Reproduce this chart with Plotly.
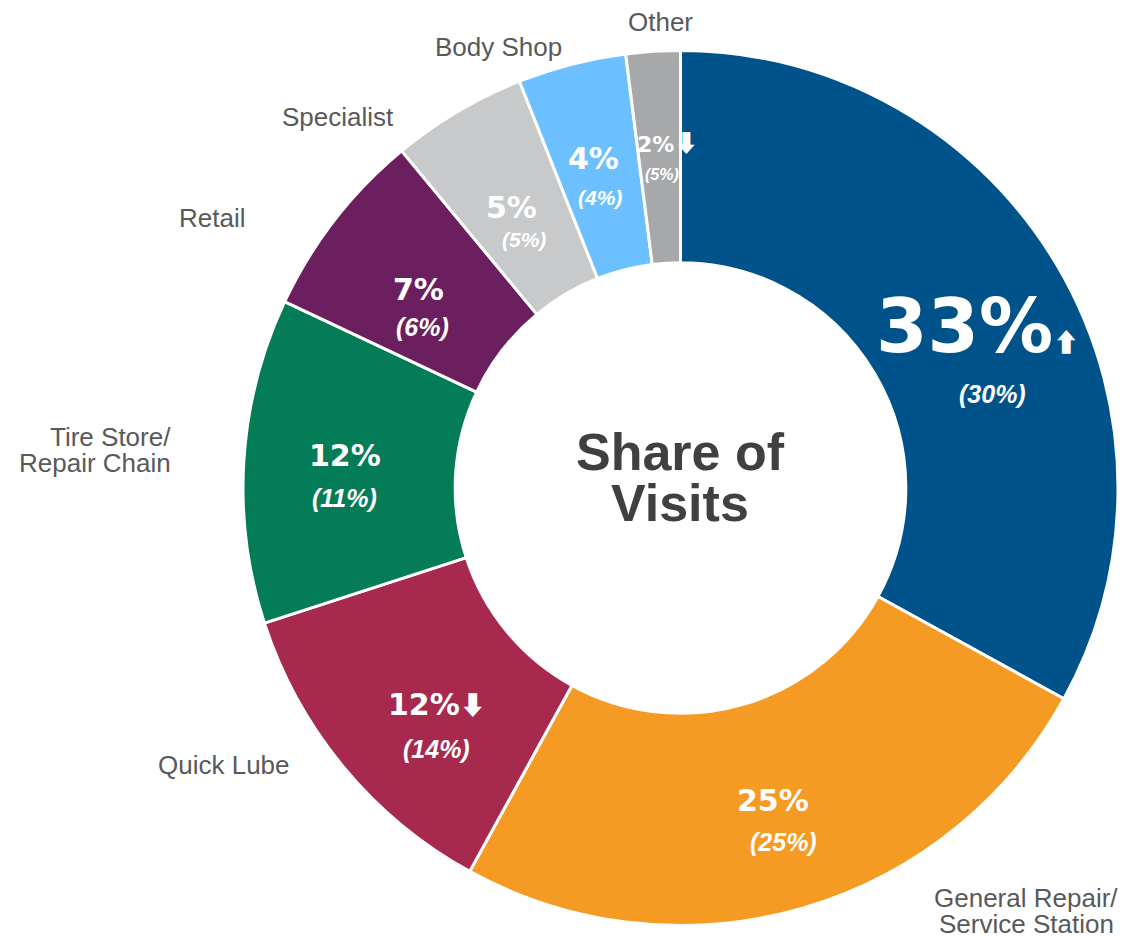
import math
import plotly.graph_objects as go

# ---------------- data ----------------
segment_names = ["", "General Repair/<br>Service Station", "Quick Lube", "Tire Store/<br>Repair Chain",
                 "Retail", "Specialist", "Body Shop", "Other"]
share_now = [33, 25, 12, 12, 7, 5, 4, 2]
share_prev = [30, 25, 14, 11, 6, 5, 4, 5]
trend = ["up", "", "down", "", "", "", "", "down"]
center_title = ["Share of", "Visits"]

# ---------------- styles ----------------
colors = ["#00538A", "#F59A23", "#A8294E", "#047C58", "#6B1F5E", "#C8C9CB", "#6CC0FF", "#A7A8AA"]
main_size = [74, 30, 30, 30, 30, 30, 30, 22]
sub_size = [25, 25, 25, 25, 25, 21, 21, 16]
arrow_size = [26, 26, 26, 26, 26, 26, 26, 24]
# fine offsets (px, +x right, +y down)
main_off = [(12, 7), (0, -6), (12, 4), (-5, -12), (0, 5), (0, 5), (-5, -9), (8, -16)]
sub_off = [(27, 8), (11, -4), (11, 10), (-5, -9), (4, 2), (12, -3), (2, -10), (2, -18)]

W, H = 1122, 937
CX, CY, R = 680.5, 488, 437.5
HOLE = 0.515

# label placement (pixel positions, layout only)
label_xy = {
    1: (1026, 898, "center"),
    2: (291, 765, "right"),
    3: (172, 437, "right"),
    4: (246, 218, "right"),
    5: (395, 117, "right"),
    6: (498, 47, "center"),
    7: (660, 22, "center"),
}
LABEL_LINE = 26


def px(x):
    return x / W


def py(y):
    return 1 - y / H


fig = go.Figure()
fig.add_trace(go.Pie(
    values=share_now,
    sort=False,
    direction="clockwise",
    rotation=0,
    hole=HOLE,
    marker=dict(colors=colors, line=dict(color="white", width=3)),
    textinfo="none",
    hoverinfo="skip",
    showlegend=False,
    domain=dict(x=[px(CX - R), px(CX + R)], y=[py(CY + R), py(CY - R)]),
))

annotations = []
total = sum(share_now)
cum = 0
r_mid = (R + R * HOLE) / 2
for i, v in enumerate(share_now):
    mid = (cum + v / 2) / total * 2 * math.pi
    cum += v
    x = CX + r_mid * math.sin(mid)
    y = CY - r_mid * math.cos(mid)
    arrow = ""
    sty = f"font-size:{arrow_size[i]}px;font-family:Noto Sans CJK JP"
    if trend[i] == "up":
        arrow = f"<span style='{sty}'>⬆</span>"
    elif trend[i] == "down":
        arrow = f"<span style='{sty}'>⬇</span>"
    annotations.append(dict(
        x=px(x), y=py(y), xref="paper", yref="paper", showarrow=False,
        text=f"<b>{v}%</b>{arrow}",
        font=dict(family="DejaVu Sans", size=main_size[i], color="white"),
        xanchor="center", yanchor="middle",
        xshift=main_off[i][0], yshift=-main_off[i][1],
    ))
    annotations.append(dict(
        x=px(x), y=py(y), xref="paper", yref="paper", showarrow=False,
        text=f"<b><i>({share_prev[i]}%)</i></b>",
        font=dict(family="Liberation Sans", size=sub_size[i], color="white"),
        xanchor="center", yanchor="middle",
        xshift=sub_off[i][0], yshift=-(main_size[i] * 0.6 + 22) - sub_off[i][1],
    ))

for i, (lx, ly, anc) in label_xy.items():
    for k, line in enumerate(segment_names[i].split("<br>")):
        annotations.append(dict(
            x=px(lx), y=py(ly + k * LABEL_LINE), xref="paper", yref="paper", showarrow=False,
            text=line, align=anc, borderpad=0,
            font=dict(family="Liberation Sans", size=26, color="#595959"),
            xanchor=anc, yanchor="middle",
        ))

for k, line in enumerate(center_title):
    annotations.append(dict(
        x=px(CX), y=py(452 + 51 * k), xref="paper", yref="paper", showarrow=False,
        text=f"<b>{line}</b>", borderpad=0,
        font=dict(family="Liberation Sans", size=52, color="#404040"),
        xanchor="center", yanchor="middle",
    ))

fig.update_layout(
    width=W, height=H,
    margin=dict(l=0, r=0, t=0, b=0),
    paper_bgcolor="white", plot_bgcolor="white",
    annotations=annotations,
)

fig.write_html("out.html", config={"displayModeBar": False},
               post_script="document.body.style.margin='0';document.body.style.overflow='hidden';")
